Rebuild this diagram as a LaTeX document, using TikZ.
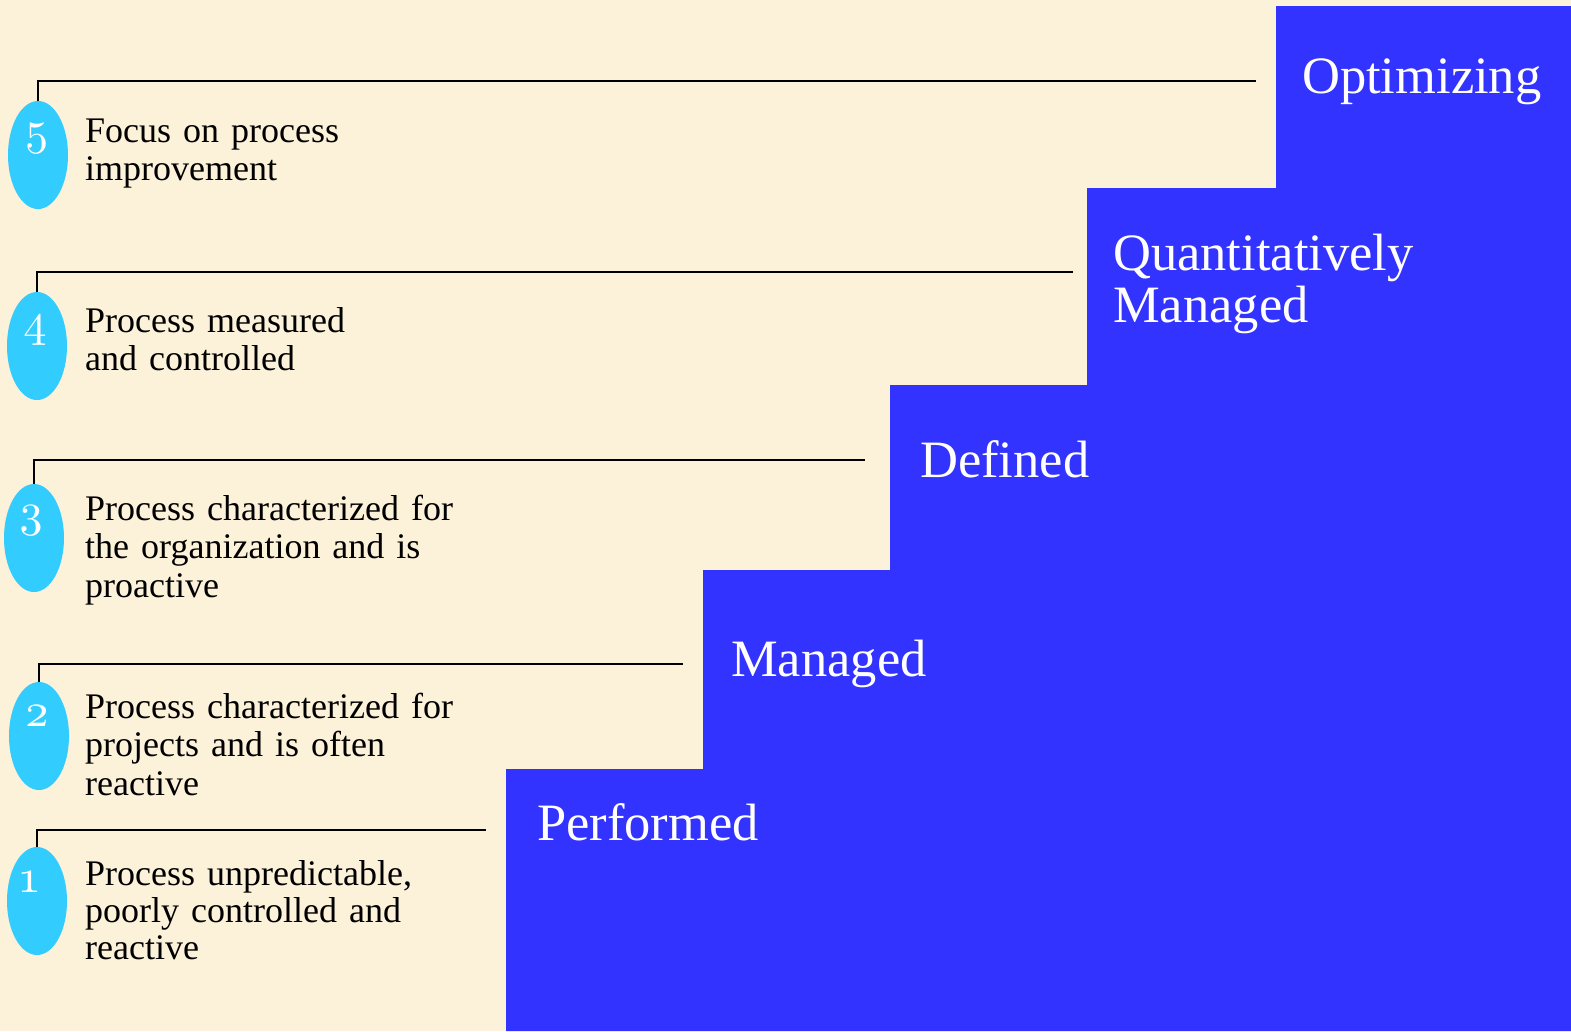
\documentclass[tikz,border=0pt]{standalone}
\usepackage{fontspec}
\setmainfont{Liberation Serif}
\newfontfamily\numfont{lmroman10-regular}[Extension=.otf,Numbers=OldStyle]
\usetikzlibrary{shapes.geometric}
\definecolor{bg}{RGB}{252,241,217}
\definecolor{stair}{RGB}{51,51,255}
\definecolor{bubble}{RGB}{51,204,255}
\begin{document}
\begin{tikzpicture}[x=1pt,y=-1pt,
  bub/.style={ellipse,fill=bubble,minimum width=60,minimum height=108,inner sep=0},
  num/.style={text=white,inner sep=0,font=\numfont\fontsize{46}{46}\selectfont},
  desc/.style={anchor=base west,text width=440,align=left,inner sep=0,font=\fontsize{36}{38.5}\selectfont},
  lvl/.style={anchor=base west,text width=420,align=left,inner sep=0,text=white,font=\fontsize{52.5}{52}\selectfont},
  conn/.style={line width=2.8pt,black}]
\fill[bg] (0,0) rectangle (1571,1031);
\useasboundingbox (0,0) rectangle (1571,1031);
% staircase
\fill[stair] (506,1031) |- (703,769) |- (890,570) |- (1087,385) |- (1276,188) |- (1571,6) -- (1571,1031) -- cycle;
% bubbles
\node[bub] (e5) at (38,155) {};
\node[bub] (e4) at (37,346) {};
\node[bub] (e3) at (34,538) {};
\node[bub] (e2) at (39,736) {};
\node[bub] (e1) at (37,901) {};
\node[num] (n5) at (37,139) {5};
\node[num] (n4) at (35,330) {4};
\node[num] (n3) at (31,521) {3};
\node[num] (n2) at (37,716) {2};
\node[num] (n1) at (30,882) {1};
% connector ends
\coordinate (c5) at (1256,81);
\coordinate (c4) at (1073,272);
\coordinate (c3) at (865,460);
\coordinate (c2) at (683,664);
\coordinate (c1) at (486,830);
\draw[conn] (e5.north) |- (c5);
\draw[conn] (e4.north) |- (c4);
\draw[conn] (e3.north) |- (c3);
\draw[conn] (e2.north) |- (c2);
\draw[conn] (e1.north) |- (c1);
% descriptions
\node[desc] (t5) at (85,142) {Focus on process\\improvement};
\node[desc] (t4) at (85,332) {Process measured\\and controlled};
\node[desc] (t3) at (85,520) {Process characterized for\\the organization and is\\proactive};
\node[desc] (t2) at (85,718) {Process characterized for\\projects and is often\\reactive};
\node[desc,font=\fontsize{36}{37}\selectfont] (t1) at (85,885) {Process unpredictable,\\poorly controlled and\\reactive};
% level labels
\node[lvl] (l5) at (1302,93) {Optimizing};
\node[lvl] (l4) at (1113,270) {Quantitatively\\Managed};
\node[lvl] (l3) at (920,477) {Defined};
\node[lvl] (l2) at (731,676) {Managed};
\node[lvl] (l1) at (537,840) {Performed};
\end{tikzpicture}
\end{document}
